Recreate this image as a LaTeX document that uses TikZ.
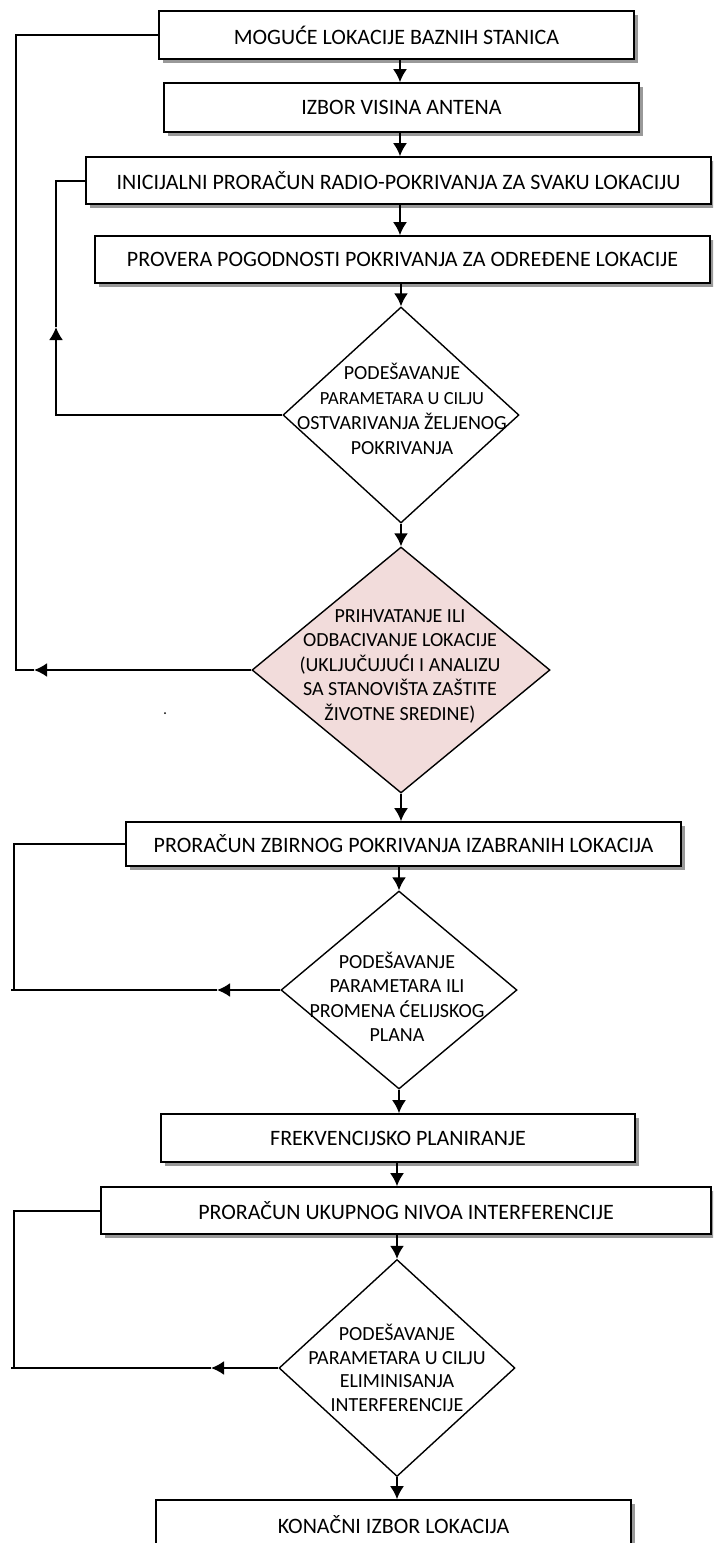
\documentclass[tikz,border=0pt]{standalone}
\usepackage{fontspec}
\setmainfont{Carlito}
\usetikzlibrary{shapes.geometric,arrows.meta,shadows}
\definecolor{pinkfill}{RGB}{242,220,219}
\begin{document}
\begin{tikzpicture}[x=1pt,y=-1pt,
  box/.style={draw=black, line width=1.6pt, fill=white,
    drop shadow={shadow xshift=3.5pt, shadow yshift=-3.5pt, fill=gray!80, opacity=1},
    font=\fontsize{22}{26}\selectfont, inner sep=0pt},
  dia/.style={diamond, draw=black, line width=1.4pt, inner sep=0pt},
  dtext/.style={align=center, inner sep=0pt, font=\fontsize{20}{25}\selectfont},
  arr/.style={line width=2pt, -{Latex[length=13pt,width=14pt]}},
  ln/.style={line width=2pt}]
\useasboundingbox (0,0) rectangle (713,1543);
\clip (0,0) rectangle (713,1543);
\coordinate (ax1) at (400,0);
\coordinate (ax2) at (397,0);
% boxes
\node[box, minimum width=475, minimum height=48] (b1) at (396.5,35) {MOGUĆE LOKACIJE BAZNIH STANICA};
\node[box, minimum width=475, minimum height=49] (b2) at (401.5,107.5) {IZBOR VISINA ANTENA};
\node[box, minimum width=625, minimum height=47] (b3) at (398.5,180.5) {INICIJALNI PRORAČUN RADIO-POKRIVANJA ZA SVAKU LOKACIJU};
\node[box, minimum width=615, minimum height=47] (b4) at (402.5,259.5) {PROVERA POGODNOSTI POKRIVANJA ZA ODREĐENE LOKACIJE};
\node[dia, minimum width=236, minimum height=216] (d1) at (401,415) {};
\node[dia, fill=pinkfill, minimum width=298, minimum height=246] (d2) at (401,670) {};
\node[box, minimum width=555, minimum height=44] (b5) at (403.5,844) {PRORAČUN ZBIRNOG POKRIVANJA IZABRANIH LOKACIJA};
\node[dia, minimum width=236, minimum height=198] (d3) at (399,990) {};
\node[box, minimum width=474, minimum height=48] (b6) at (398,1138) {FREKVENCIJSKO PLANIRANJE};
\node[box, minimum width=610, minimum height=47] (b7) at (406,1210.5) {PRORAČUN UKUPNOG NIVOA INTERFERENCIJE};
\node[dia, minimum width=236, minimum height=217] (d4) at (397,1368) {};
\node[box, minimum width=475, minimum height=48, text depth=0pt] (b8) at (393.5,1524) {KONAČNI IZBOR LOKACIJA};
% diamond texts
\node[dtext] (t1txt) at (402,409) {PODEŠAVANJE\\{\fontsize{18.5}{25}\selectfont PARAMETARA U CILJU}\\OSTVARIVANJA ŽELJENOG\\POKRIVANJA};
\node[dtext, font=\fontsize{20}{24.5}\selectfont] (t2txt) at (400,666) {PRIHVATANJE ILI\\ODBACIVANJE LOKACIJE\\(UKLJUČUJUĆI I ANALIZU\\SA STANOVIŠTA ZAŠTITE\\ŽIVOTNE SREDINE)};
\node[dtext, font=\fontsize{20}{24.5}\selectfont] (t3txt) at (397,997) {PODEŠAVANJE\\PARAMETARA ILI\\PROMENA ĆELIJSKOG\\PLANA};
\node[dtext, font=\fontsize{20}{23.5}\selectfont] (t4txt) at (397,1368) {PODEŠAVANJE\\PARAMETARA U CILJU\\ELIMINISANJA\\INTERFERENCIJE};
% main arrows
\draw[arr] (b1.south -| ax1) -- (b2.north -| ax1);
\draw[arr] (b2.south -| ax1) -- (b3.north -| ax1);
\draw[arr] (b3.south -| ax1) -- (b4.north -| ax1);
\draw[arr] (b4.south -| d1.north) -- (d1.north);
\draw[arr] (d1.south) -- (d2.north);
\draw[arr] (d2.south) -- (b5.north -| d2.south);
\draw[arr] (b5.south -| d3.north) -- (d3.north);
\draw[arr] (d3.south) -- (b6.north -| d3.south);
\draw[arr] (b6.south -| ax2) -- (b7.north -| ax2);
\draw[arr] (b7.south -| d4.north) -- (d4.north);
\draw[arr] (d4.south) -- (b8.north -| d4.south);
% feedback loops
\coordinate (k1) at (34,670);
\draw[arr] (d2.west) -- (k1);
\draw[ln] (k1) -- (16,670) |- (b1.west);
\coordinate (k2) at (56,327);
\draw[arr] (d1.west) -| (k2);
\draw[ln] (k2) |- (b3.west);
\coordinate (k3) at (217,990);
\draw[arr] (d3.west) -- (k3);
\draw[ln] (k3) -- (11,990);
\draw[ln] (b5.west) -| (14,990);
\coordinate (k4) at (211,1368);
\draw[arr] (d4.west) -- (k4);
\draw[ln] (k4) -- (11,1368);
\draw[ln] (b7.west) -| (14,1368);
% stray dot
\fill (165,713) circle (1);
\end{tikzpicture}
\end{document}
